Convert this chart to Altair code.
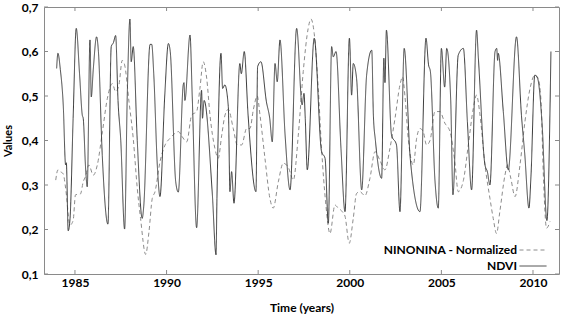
import altair as alt
import pandas as pd

# NDVI series (time in decimal years, value)
ndvi_time = [1984.00, 1984.07, 1984.20, 1984.36, 1984.49, 1984.53, 1984.63, 1984.73, 1984.90,
             1985.07, 1985.25, 1985.40, 1985.45, 1985.58, 1985.67, 1985.82, 1985.89, 1986.00,
             1986.18, 1986.28, 1986.49, 1986.80, 1986.98, 1987.10, 1987.22, 1987.35, 1987.50,
             1987.71, 1987.86, 1988.00, 1988.07, 1988.18, 1988.40, 1988.67, 1988.75, 1989.10,
             1989.19, 1989.30, 1989.50, 1989.64, 1989.90, 1990.10, 1990.20, 1990.50, 1990.64,
             1990.91, 1990.95, 1991.00, 1991.28, 1991.40, 1991.64, 1991.91, 1991.96, 1992.05,
             1992.50, 1992.70, 1992.75, 1992.97, 1993.06, 1993.18, 1993.37, 1993.46, 1993.55,
             1993.68, 1994.00, 1994.08, 1994.24, 1994.45, 1994.88, 1994.97, 1995.15, 1995.45,
             1995.63, 1995.77, 1995.92, 1996.04, 1996.19, 1996.47, 1996.74, 1997.10, 1997.40,
             1997.50, 1997.57, 1997.68, 1998.06, 1998.46, 1998.65, 1998.83, 1999.01, 1999.10,
             1999.25, 1999.52, 1999.74, 1999.98, 2000.10, 2000.19, 2000.37, 2000.65, 2000.92,
             2001.20, 2001.29, 2001.40, 2001.74, 2001.86, 2001.92, 2002.00, 2002.28, 2002.55,
             2002.74, 2002.97, 2003.30, 2003.83, 2004.16, 2004.30, 2004.40, 2004.65, 2004.83,
             2005.00, 2005.18, 2005.29, 2005.51, 2005.63, 2005.92, 2006.20, 2006.42, 2006.65,
             2006.92, 2007.02, 2007.38, 2007.51, 2007.65, 2007.93, 2008.02, 2008.07, 2008.10,
             2008.38, 2008.65, 2009.10, 2009.37, 2009.55, 2009.78, 2009.89, 2010.10, 2010.25,
             2010.50, 2010.76, 2010.98]
ndvi_value = [0.562, 0.596, 0.560, 0.480, 0.345, 0.350, 0.197, 0.224, 0.450,
              0.652, 0.550, 0.457, 0.450, 0.338, 0.296, 0.626, 0.498, 0.560,
              0.633, 0.600, 0.367, 0.212, 0.611, 0.620, 0.636, 0.490, 0.400,
              0.201, 0.510, 0.673, 0.577, 0.611, 0.400, 0.225, 0.250, 0.616,
              0.616, 0.550, 0.340, 0.274, 0.500, 0.618, 0.600, 0.307, 0.284,
              0.525, 0.530, 0.490, 0.637, 0.500, 0.204, 0.513, 0.450, 0.490,
              0.278, 0.143, 0.270, 0.596, 0.517, 0.525, 0.476, 0.285, 0.330,
              0.259, 0.573, 0.550, 0.600, 0.457, 0.285, 0.566, 0.577, 0.487,
              0.450, 0.397, 0.573, 0.532, 0.626, 0.412, 0.289, 0.652, 0.480,
              0.506, 0.450, 0.334, 0.630, 0.375, 0.360, 0.214, 0.611, 0.588,
              0.600, 0.382, 0.240, 0.630, 0.502, 0.573, 0.540, 0.289, 0.547,
              0.603, 0.455, 0.400, 0.315, 0.585, 0.530, 0.648, 0.412, 0.390,
              0.240, 0.607, 0.360, 0.240, 0.630, 0.570, 0.555, 0.310, 0.248,
              0.607, 0.520, 0.607, 0.490, 0.278, 0.592, 0.607, 0.442, 0.289,
              0.648, 0.585, 0.345, 0.330, 0.300, 0.600, 0.607, 0.580, 0.596,
              0.465, 0.334, 0.633, 0.457, 0.370, 0.248, 0.320, 0.547, 0.540,
              0.435, 0.220, 0.600]

# NINONINA - Normalized series
nino_time = [1983.95, 1984.07, 1984.20, 1984.36, 1984.49, 1984.73, 1984.90, 1985.03, 1985.30,
             1985.45, 1985.58, 1985.76, 1986.00, 1986.22, 1986.50, 1986.77, 1987.04, 1987.22,
             1987.40, 1987.58, 1987.71, 1987.95, 1988.18, 1988.40, 1988.58, 1988.86, 1989.04,
             1989.22, 1989.37, 1989.64, 1989.92, 1990.19, 1990.46, 1990.65, 1990.83, 1991.10,
             1991.37, 1991.64, 1991.82, 1992.00, 1992.19, 1992.37, 1992.64, 1992.82, 1993.01,
             1993.19, 1993.37, 1993.64, 1993.86, 1994.10, 1994.37, 1994.55, 1994.74, 1994.95,
             1995.10, 1995.37, 1995.64, 1995.82, 1996.10, 1996.37, 1996.64, 1996.92, 1997.19,
             1997.46, 1997.73, 1997.88, 1998.06, 1998.28, 1998.46, 1998.68, 1998.92, 1999.19,
             1999.33, 1999.59, 1999.74, 1999.97, 2000.19, 2000.37, 2000.55, 2000.83, 2001.10,
             2001.38, 2001.65, 2001.92, 2002.19, 2002.47, 2002.74, 2002.88, 2003.01, 2003.19,
             2003.47, 2003.65, 2003.83, 2004.01, 2004.19, 2004.38, 2004.65, 2004.92, 2005.19,
             2005.47, 2005.74, 2005.92, 2006.20, 2006.47, 2006.74, 2006.92, 2007.10, 2007.38,
             2007.65, 2007.83, 2008.01, 2008.19, 2008.47, 2008.61, 2008.79, 2009.02, 2009.29,
             2009.56, 2009.84, 2010.10, 2010.28, 2010.44, 2010.56, 2010.74, 2010.93]
nino_value = [0.311, 0.334, 0.330, 0.325, 0.293, 0.210, 0.220, 0.278, 0.280,
              0.307, 0.320, 0.345, 0.322, 0.345, 0.420, 0.495, 0.528, 0.510,
              0.525, 0.580, 0.570, 0.487, 0.405, 0.293, 0.225, 0.144, 0.195,
              0.270, 0.285, 0.352, 0.390, 0.405, 0.416, 0.420, 0.410, 0.397,
              0.457, 0.465, 0.517, 0.577, 0.540, 0.457, 0.382, 0.360, 0.412,
              0.457, 0.470, 0.427, 0.390, 0.390, 0.427, 0.427, 0.470, 0.500,
              0.457, 0.360, 0.270, 0.248, 0.307, 0.349, 0.340, 0.311, 0.412,
              0.555, 0.652, 0.673, 0.640, 0.517, 0.382, 0.262, 0.191, 0.255,
              0.250, 0.240, 0.230, 0.169, 0.225, 0.281, 0.285, 0.276, 0.315,
              0.375, 0.355, 0.334, 0.382, 0.450, 0.525, 0.543, 0.500, 0.405,
              0.345, 0.405, 0.427, 0.420, 0.390, 0.400, 0.465, 0.465, 0.439,
              0.420, 0.350, 0.285, 0.310, 0.390, 0.472, 0.502, 0.460, 0.345,
              0.270, 0.225, 0.191, 0.240, 0.322, 0.345, 0.315, 0.274, 0.345,
              0.442, 0.517, 0.547, 0.540, 0.487, 0.330, 0.203, 0.218]

series_names = ["NINONINA - Normalized", "NDVI"]
x_ticks = [1985, 1990, 1995, 2000, 2005, 2010]
y_ticks = [0.1, 0.2, 0.3, 0.4, 0.5, 0.6, 0.7]

df = pd.concat([
    pd.DataFrame({"time": nino_time, "value": nino_value, "series": series_names[0]}),
    pd.DataFrame({"time": ndvi_time, "value": ndvi_value, "series": series_names[1]}),
])
xt = pd.DataFrame({"time": x_ticks})
yt = pd.DataFrame({"value": y_ticks})

FONT = "Lato"
FRAME = "#8a8a8a"
W, H = 515, 267

xscale = alt.Scale(domain=[1983.31, 2011.42], nice=False, zero=False)
yscale = alt.Scale(domain=[0.1, 0.7], nice=False, zero=False)

x_axis = alt.Axis(values=x_ticks, format="d", title="Time (years)",
                  ticks=False, domain=False, grid=False,
                  labelFont=FONT, labelFontSize=12, labelFontWeight="bold",
                  labelColor="#000000", labelPadding=3,
                  titleFont=FONT, titleFontSize=12, titleFontWeight="bold",
                  titleColor="#000000", titlePadding=14)
y_axis = alt.Axis(values=y_ticks, title="Values",
                  labelExpr="replace(format(datum.value, '.1f'), '.', ',')",
                  ticks=False, domain=False, grid=False,
                  labelFont=FONT, labelFontSize=12, labelFontWeight="bold",
                  labelColor="#000000", labelPadding=6,
                  titleFont=FONT, titleFontSize=11, titleFontWeight="bold",
                  titleColor="#000000", titlePadding=8)


def make_legend():
    return alt.Legend(title=None, orient="none", legendX=483, legendY=237,
                      symbolType="M-2.7,0H2.7", symbolSize=100,
                      symbolStrokeWidth=1, labelAlign="right",
                      labelOffset=alt.ExprRef(expr="-22"),
                      rowPadding=4,
                      labelFont=FONT, labelFontSize=12,
                      labelFontWeight="bold", labelColor="#000000",
                      labelLimit=300)


lines = alt.Chart(df).mark_line(strokeWidth=1, clip=True, interpolate="monotone").encode(
    x=alt.X("time:Q", scale=xscale, axis=x_axis),
    y=alt.Y("value:Q", scale=yscale, axis=y_axis),
    color=alt.Color("series:N",
                    scale=alt.Scale(domain=series_names, range=["#8c8c8c", "#3c3c3c"]),
                    legend=make_legend()),
    strokeDash=alt.StrokeDash("series:N",
                              scale=alt.Scale(domain=series_names, range=[[4, 3], [1, 0]]),
                              legend=make_legend()),
    order=alt.Order("time:Q"),
)

top_ticks = alt.Chart(xt).mark_rule(color=FRAME, strokeWidth=1).encode(
    x=alt.X("time:Q", scale=xscale, axis=x_axis), y=alt.value(0), y2=alt.value(4))
bottom_ticks = alt.Chart(xt).mark_rule(color=FRAME, strokeWidth=1).encode(
    x=alt.X("time:Q", scale=xscale, axis=x_axis), y=alt.value(H), y2=alt.value(H - 4))
left_ticks = alt.Chart(yt).mark_rule(color=FRAME, strokeWidth=1).encode(
    y=alt.Y("value:Q", scale=yscale, axis=y_axis), x=alt.value(0), x2=alt.value(4))
right_ticks = alt.Chart(yt).mark_rule(color=FRAME, strokeWidth=1).encode(
    y=alt.Y("value:Q", scale=yscale, axis=y_axis), x=alt.value(W), x2=alt.value(W - 4))

chart = alt.layer(lines, top_ticks, bottom_ticks, left_ticks, right_ticks).properties(
    width=W, height=H,
    autosize=alt.AutoSizeParams(type="none"),
    padding={"left": 44, "top": 7, "right": 8, "bottom": 44},
    background="#ffffff",
).configure_view(stroke=FRAME, strokeWidth=1)

chart.save("out.html", embed_options={"renderer": "svg", "actions": False})
